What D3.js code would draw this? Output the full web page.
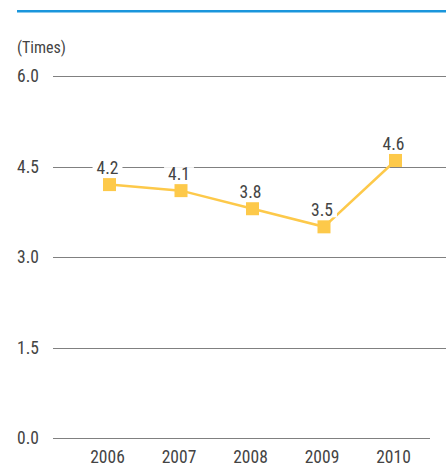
<!DOCTYPE html>
<html><head><meta charset="utf-8">
<script src="https://cdn.jsdelivr.net/npm/d3@7"></script>
<style>
body{margin:0;background:#fff;}
svg text{font-family:"Liberation Sans Narrow","Roboto Condensed",Roboto,sans-serif;fill:#444;font-weight:400;}
</style></head>
<body><svg id="c" width="446" height="467"></svg>
<script>
const years = ["2006","2007","2008","2009","2010"];
const values = [4.2, 4.1, 3.8, 3.5, 4.6];
const yTicks = [0, 1.5, 3.0, 4.5, 6.0];
const unitLabel = "(Times)";

const svg = d3.select("#c");
const x = d3.scalePoint().domain(years).range([109.5, 395.5]);
const y = d3.scaleLinear().domain([0, 6]).range([438, 76]);

svg.append("rect").attr("x",17).attr("y",10).attr("width",429).attr("height",2.5).attr("fill","#1a96dc");

svg.append("text").attr("x",17).attr("y",53).attr("font-size",16).text(unitLabel);

yTicks.forEach(t=>{
  svg.append("line").attr("x1",53).attr("x2", t===0?430:446)
    .attr("y1",Math.round(y(t))+0.5).attr("y2",Math.round(y(t))+0.5)
    .attr("stroke","#808080").attr("stroke-width",1);
  svg.append("text").attr("x",17).attr("y",y(t)+6).attr("font-size",17.5).text(d3.format(".1f")(t));
});

years.forEach(yr=>{
  svg.append("text").attr("x",x(yr)-2).attr("y",463).attr("text-anchor","middle").attr("font-size",17.5).text(yr);
});

const line = d3.line().x((d,i)=>x(years[i])).y(d=>y(d));
svg.append("path").attr("d",line(values)).attr("fill","none").attr("stroke","#fdc94a").attr("stroke-width",2.5);

const g = svg.selectAll("g.pt").data(values).join("g").attr("class","pt");
g.append("rect").attr("x",(d,i)=>x(years[i])-6.5).attr("y",d=>y(d)-6.5).attr("width",13).attr("height",13).attr("fill","#fdc94a");
g.each(function(d,i){
  const gg = d3.select(this);
  const bg = gg.append("rect").attr("fill","#fff");
  const t = gg.append("text").attr("x",x(years[i])-2).attr("y",y(d)-10.5).attr("text-anchor","middle").attr("font-size",17.5).text(d3.format(".1f")(d));
  const b = t.node().getBBox();
  bg.attr("x",b.x-4).attr("y",b.y+3).attr("width",b.width+8).attr("height",b.height-6);
});
</script></body></html>
